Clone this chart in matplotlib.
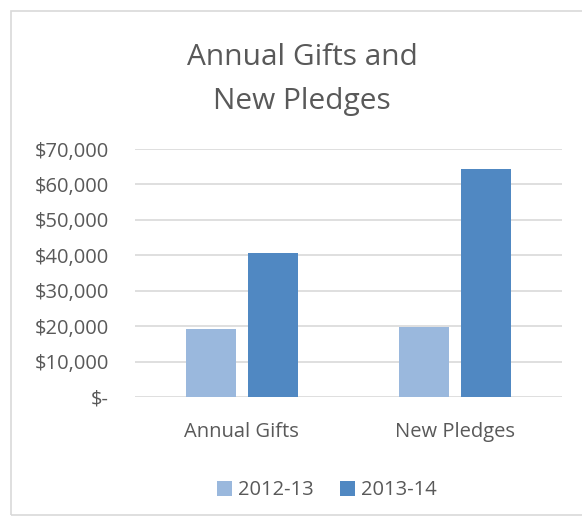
import numpy as np
import matplotlib
matplotlib.use("Agg")
import matplotlib.pyplot as plt
from matplotlib.patches import Rectangle

plt.rcParams['font.family'] = ['Open Sans', 'DejaVu Sans']

# data
categories = ["Annual Gifts", "New Pledges"]
series_names = ["2012-13", "2013-14"]
values_2012 = [19100, 19900]
values_2013 = [40600, 64500]
y_ticks = [0, 10000, 20000, 30000, 40000, 50000, 60000, 70000]
y_labels = ["$-", "$10,000", "$20,000", "$30,000", "$40,000", "$50,000", "$60,000", "$70,000"]

light = "#9AB8DD"
dark = "#5088C2"
txt = "#595959"

fig = plt.figure(figsize=(5.82, 5.16), dpi=100)
ax = fig.add_axes([0.232, 0.2306, 0.7337, 0.4806])

x = np.arange(len(categories))
w = 0.234
off = 0.146
ax.bar(x - off, values_2012, w, color=light, label=series_names[0], zorder=3)
ax.bar(x + off, values_2013, w, color=dark, label=series_names[1], zorder=3)

ax.set_xlim(-0.5, 1.5)
ax.set_ylim(0, 70000)
ax.set_yticks(y_ticks)
ax.set_yticklabels(y_labels)
ax.set_xticks(x)
ax.set_xticklabels(categories)

ax.grid(axis="y", color="#D9D9D9", linewidth=1.2, zorder=0)
for s in ax.spines.values():
    s.set_visible(False)
ax.tick_params(axis="both", length=0, colors=txt, labelsize=14.5)
ax.tick_params(axis="y", pad=19)
ax.tick_params(axis="x", pad=18)

fig.text(0.519, 0.846, "Annual Gifts and\nNew Pledges", ha="center", va="center",
         fontsize=21.5, color=txt, linespacing=1.72)

fig.legend(loc="center", bbox_to_anchor=(0.562, 0.05), ncol=2, frameon=False,
           fontsize=14.5, labelcolor=txt, handlelength=0.75, handleheight=0.75,
           handletextpad=0.3, columnspacing=1.3)

# chart border
fig.add_artist(Rectangle((11 / 582, 1 / 516), 1.2, 1 - 11 / 516 - 1 / 516,
                         transform=fig.transFigure, fill=False,
                         edgecolor="#D9D9D9", linewidth=1.2))

fig.savefig("out.png", dpi=100)
